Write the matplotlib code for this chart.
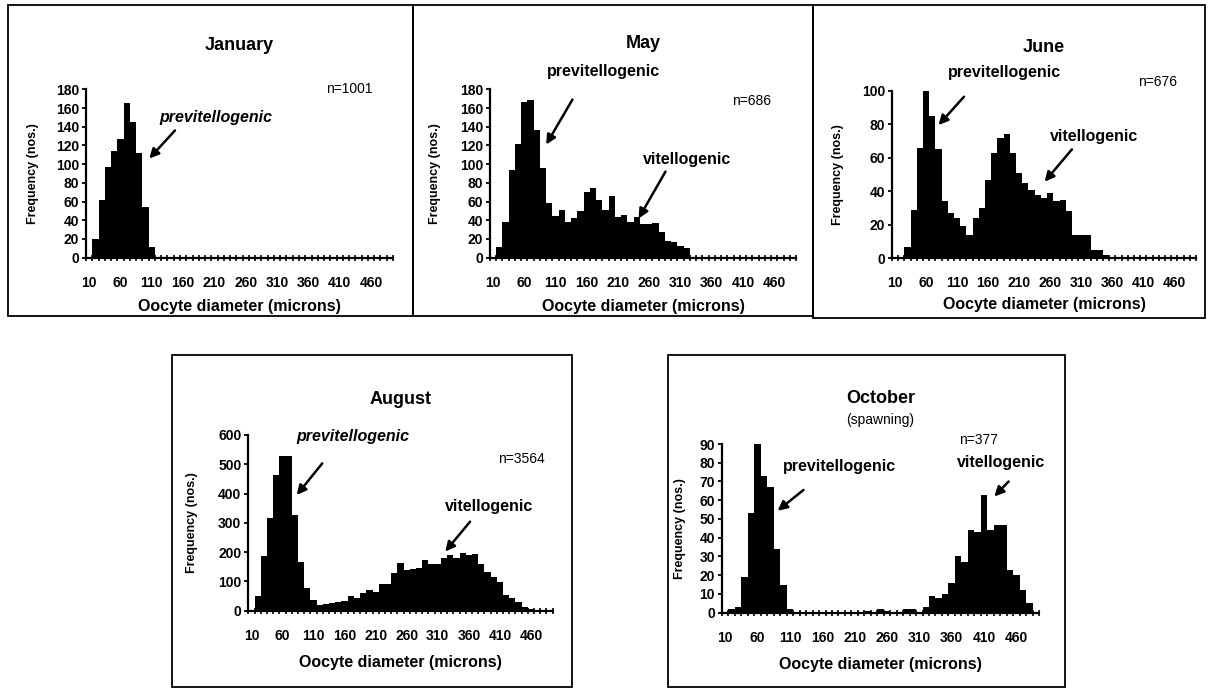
import matplotlib
matplotlib.use('Agg')
import matplotlib.pyplot as plt
from matplotlib.patches import Rectangle
import numpy as np

# ---------------- data ----------------
diameters = [10, 20, 30, 40, 50, 60, 70, 80, 90, 100,
             110, 120, 130, 140, 150, 160, 170, 180, 190, 200,
             210, 220, 230, 240, 250, 260, 270, 280, 290, 300,
             310, 320, 330, 340, 350, 360, 370, 380, 390, 400,
             410, 420, 430, 440, 450, 460, 470, 480, 490]
tick_labels = ['10', '60', '110', '160', '210', '260', '310', '360', '410', '460']

january = [0, 20, 62, 97, 114, 127, 165, 145, 112, 54,
           11, 0, 0, 0, 0, 0, 0, 0, 0, 0,
           0, 0, 0, 0, 0, 0, 0, 0, 0, 0,
           0, 0, 0, 0, 0, 0, 0, 0, 0, 0,
           0, 0, 0, 0, 0, 0, 0, 0, 0]
may = [0, 11, 38, 94, 121, 166, 169, 136, 96, 59,
       45, 51, 38, 42, 50, 70, 75, 62, 51, 66,
       43, 46, 38, 44, 36, 36, 37, 27, 18, 17,
       13, 10, 0, 0, 0, 0, 0, 0, 0, 0,
       0, 0, 0, 0, 0, 0, 0, 0, 0]
june = [0, 0, 7, 29, 66, 100, 85, 65, 34, 27,
        24, 19, 14, 24, 30, 47, 63, 72, 74, 63,
        51, 45, 41, 38, 36, 39, 34, 35, 28, 14,
        14, 14, 5, 5, 2, 1, 1, 0, 0, 0,
        0, 0, 0, 0, 0, 0, 0, 0, 0]
august = [0, 50, 187, 315, 465, 527, 527, 328, 165, 78,
          37, 20, 22, 27, 30, 32, 50, 42, 62, 72,
          65, 92, 92, 128, 162, 138, 142, 147, 172, 160,
          160, 180, 190, 180, 197, 190, 195, 160, 132, 115,
          97, 55, 45, 30, 12, 5, 3, 3, 0]
october = [0, 2, 3, 19, 53, 90, 73, 67, 34, 15,
           2, 0, 0, 0, 0, 0, 0, 0, 0, 0,
           0, 0, 1, 0, 2, 1, 0, 0, 2, 2,
           0, 3, 9, 8, 10, 16, 30, 27, 44, 43,
           63, 44, 47, 47, 23, 20, 12, 5, 0]

# ---------------- layout (pixels) ----------------
W, H = 1210, 689
fig = plt.figure(figsize=(W / 100, H / 100), dpi=100)
FONT = ['Liberation Sans', 'DejaVu Sans']


def fx(x):
    return x / W


def fy(y):
    return 1 - y / H


# boxes around panels
boxes = [(8, 5, 413, 316), (413, 5, 813, 316), (813, 5, 1205, 318),
         (172, 355, 572, 687), (668, 355, 1065, 687)]
for (x0, y0, x1, y1) in boxes:
    fig.add_artist(Rectangle((fx(x0), fy(y1)), fx(x1 - x0), (y1 - y0) / H,
                             transform=fig.transFigure, fill=False,
                             edgecolor='black', linewidth=1.3))

panels = [
    dict(name='January', vals=january, rect=(86, 393, 89.3, 257.7), ymax=180, ystep=20,
         title_y=46, xlab_y=306, ylab_x=33,
         n=('n=1001', 41.6, 180),
         texts=[('previtellogenic', 20.2, 150, 'italic', (13.7, 136), (9.6, 106))]),
    dict(name='May', vals=may, rect=(490, 796, 89.3, 257.7), ymax=180, ystep=20,
         title_y=44, xlab_y=306, ylab_x=435,
         n=('n=686', 41.4, 167),
         texts=[('previtellogenic', 17.6, 199, 'normal', (12.7, 169), (8.5, 121)),
                ('vitellogenic', 31.1, 105, 'normal', (27.6, 92), (23.3, 42))]),
    dict(name='June', vals=june, rect=(892, 1196, 90.7, 258.3), ymax=100, ystep=20,
         title_y=48, xlab_y=305, ylab_x=838,
         n=('n=676', 42.3, 105),
         texts=[('previtellogenic', 17.6, 111, 'normal', (11.1, 96.4), (7.0, 79.5)),
                ('vitellogenic', 32.1, 72.6, 'normal', (28.5, 65), (24.1, 45.7))]),
    dict(name='August', vals=august, rect=(248.3, 552.7, 435, 610.7), ymax=600, ystep=100,
         title_y=400, xlab_y=662, ylab_x=192,
         n=('n=3564', 43.5, 518),
         texts=[('previtellogenic', 16.4, 594, 'italic', (11.4, 503), (7.3, 395)),
                ('vitellogenic', 38.3, 355, 'normal', (35.2, 304), (31.2, 202))]),
    dict(name='October', vals=october, rect=(722, 1039, 444, 612.7), ymax=90, ystep=10,
         title_y=398, xlab_y=665, ylab_x=680,
         n=('n=377', 39.1, 92),
         texts=[('previtellogenic', 17.7, 78, 'normal', (12.1, 65.5), (8.1, 54.4)),
                ('vitellogenic', 42.7, 80, 'normal', (43.8, 70), (41.6, 62))]),
]

ncat = len(diameters)
xpos = np.arange(ncat)
label_pos = [diameters.index(int(t)) for t in tick_labels]

for p in panels:
    x0, x1, yt, yb = p['rect']
    ax = fig.add_axes([fx(x0), fy(yb), (x1 - x0) / W, (yb - yt) / H])
    ax.bar(xpos, p['vals'], width=1.0, color='black', linewidth=0)
    ax.set_xlim(-0.5, ncat - 0.5)
    ax.set_ylim(0, p['ymax'])
    ax.set_yticks(np.arange(0, p['ymax'] + 1, p['ystep']))
    ax.set_xticks(label_pos)
    ax.set_xticklabels(tick_labels)
    ax.set_xticks(np.arange(-0.5, ncat, 1.0), minor=True)
    for s in ('top', 'right'):
        ax.spines[s].set_visible(False)
    for s in ('left', 'bottom'):
        ax.spines[s].set_linewidth(1.6)
    ax.tick_params(axis='x', which='major', length=0, pad=13)
    ax.tick_params(axis='x', which='minor', length=4, width=1.2, direction='inout')
    ax.tick_params(axis='y', which='major', length=3, width=1.3, direction='out', pad=2)
    for lab in ax.get_xticklabels() + ax.get_yticklabels():
        lab.set_fontfamily(FONT)
        lab.set_fontweight('bold')
        lab.set_fontsize(10)

    cx = (x0 + x1) / 2
    fig.text(fx(cx), fy(p['title_y']), p['name'], ha='center', va='center',
             fontsize=13, fontweight='bold', family=FONT)
    if p['name'] == 'October':
        fig.text(fx(cx), fy(p['title_y'] + 22), '(spawning)', ha='center', va='center',
                 fontsize=10, family=FONT)
    fig.text(fx(cx), fy(p['xlab_y']), 'Oocyte diameter (microns)', ha='center',
             va='center', fontsize=11.5, fontweight='bold', family=FONT)
    fig.text(fx(p['ylab_x']), fy((yt + yb) / 2), 'Frequency (nos.)', ha='center',
             va='center', rotation=90, fontsize=9, fontweight='bold', family=FONT)

    ntxt, nx, ny = p['n']
    ax.text(nx, ny, ntxt, ha='center', va='center', fontsize=10, family=FONT,
            clip_on=False)
    for (txt, tx, ty, style, tail, tip) in p['texts']:
        ax.text(tx, ty, txt, ha='center', va='center', fontsize=11.5,
                fontweight='bold', style=style, family=FONT, clip_on=False)
        ax.annotate('', xy=tip, xytext=tail, annotation_clip=False,
                    arrowprops=dict(arrowstyle='-|>', color='black', lw=1.8,
                                    mutation_scale=14, shrinkA=0, shrinkB=0))

fig.savefig('out.png', dpi=100)
